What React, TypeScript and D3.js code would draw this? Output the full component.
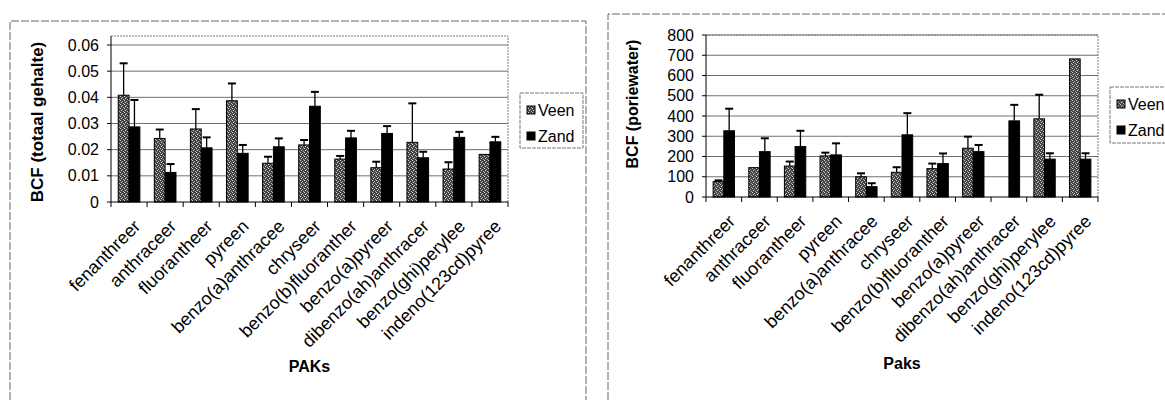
import React from "react";
import * as d3 from "d3";

const categories = [
  "fenanthreer",
  "anthraceer",
  "fluorantheer",
  "pyreen",
  "benzo(a)anthracee",
  "chryseer",
  "benzo(b)fluoranther",
  "benzo(a)pyreer",
  "dibenzo(ah)anthracer",
  "benzo(ghi)perylee",
  "indeno(123cd)pyree",
];

const seriesNames = ["Veen", "Zand"];

// BCF (totaal gehalte)
const veenTotaal = [0.0408, 0.0243, 0.0279, 0.0387, 0.0148, 0.0218, 0.0164, 0.0131, 0.0228, 0.0126, 0.0182];
const veenTotaalErr = [0.0122, 0.0034, 0.0076, 0.0066, 0.0025, 0.0019, 0.0012, 0.0023, 0.0149, 0.0026, 0];
const zandTotaal = [0.0287, 0.0113, 0.0207, 0.0186, 0.0211, 0.0366, 0.0245, 0.0262, 0.0169, 0.0247, 0.023];
const zandTotaalErr = [0.0103, 0.0032, 0.004, 0.0032, 0.0032, 0.0055, 0.0027, 0.0028, 0.0023, 0.0021, 0.0019];
const ticksTotaal = [0, 0.01, 0.02, 0.03, 0.04, 0.05, 0.06];

// BCF (poriewater)
const veenPorie = [76, 145, 153, 203, 100, 122, 140, 241, 0, 386, 682];
const veenPorieErr = [6, 0, 22, 16, 17, 25, 25, 57, 0, 119, 0];
const zandPorie = [327, 224, 249, 208, 51, 307, 165, 224, 376, 187, 187];
const zandPorieErr = [109, 66, 78, 57, 17, 107, 50, 33, 79, 29, 29];
const ticksPorie = [0, 100, 200, 300, 400, 500, 600, 700, 800];

const FONT = "'Liberation Sans', Arial, Helvetica, sans-serif";

type ChartProps = {
  veen: number[];
  veenErr: number[];
  zand: number[];
  zandErr: number[];
  ticks: number[];
  fmt: (v: number) => string;
  x0: number;
  x1: number;
  y0: number;
  yTop: number;
  plotTop: number;
  yTitle: string;
  yTitleX: number;
  yTitleY: number;
  yTitleSize: number;
  xTitle: string;
  xTitleY: number;
  legend: { x: number; y: number; w: number; h: number };
};

function BarChart(p: ChartProps) {
  const x = d3.scaleBand<string>().domain(categories).range([p.x0, p.x1]).padding(0);
  const y = d3
    .scaleLinear()
    .domain([0, p.ticks[p.ticks.length - 1]])
    .range([p.y0, p.yTop]);
  const bw = x.bandwidth() * 0.3;
  const series = [
    { name: seriesNames[0], vals: p.veen, errs: p.veenErr, fill: "url(#stipple)" },
    { name: seriesNames[1], vals: p.zand, errs: p.zandErr, fill: "#000" },
  ];
  return (
    <g>
      {/* plot area border (top/right) */}
      <path
        d={`M${p.x0},${p.plotTop}H${p.x1}V${p.y0}`}
        fill="none"
        stroke="#777"
        strokeDasharray="2,1"
      />
      {/* gridlines */}
      {p.ticks.slice(1).map((t) => (
        <line key={t} x1={p.x0} x2={p.x1} y1={y(t)} y2={y(t)} stroke="#707070" strokeWidth={1} />
      ))}
      {/* bars */}
      {series.map((s, si) =>
        categories.map((c, i) => {
          const v = s.vals[i];
          if (!v) return null;
          const bx = (x(c) as number) + x.bandwidth() / 2 - bw + si * bw;
          const top = y(v);
          const etop = y(v + s.errs[i]);
          return (
            <g key={s.name + c}>
              <rect x={bx} y={top} width={bw} height={p.y0 - top} fill={s.fill} stroke="#000" strokeWidth={1} />
              {s.errs[i] > 0 && (
                <g stroke="#000">
                  <line x1={bx + bw / 2} x2={bx + bw / 2} y1={top} y2={etop} strokeWidth={1.3} />
                  <line x1={bx + bw / 2 - 4} x2={bx + bw / 2 + 4} y1={etop} y2={etop} strokeWidth={2} />
                </g>
              )}
            </g>
          );
        })
      )}
      {/* axes */}
      <line x1={p.x0} x2={p.x0} y1={p.y0} y2={p.plotTop} stroke="#000" />
      <line x1={p.x0} x2={p.x1} y1={p.y0} y2={p.y0} stroke="#000" />
      {p.ticks.map((t) => (
        <g key={"yt" + t}>
          <line x1={p.x0 - 4} x2={p.x0} y1={y(t)} y2={y(t)} stroke="#000" />
          <text x={p.x0 - 12} y={y(t)} dy="0.35em" textAnchor="end" fontSize={16} fontFamily={FONT}>
            {p.fmt(t)}
          </text>
        </g>
      ))}
      {categories.concat([""]).map((c, i) => {
        const xx = p.x0 + i * x.bandwidth();
        return <line key={"xt" + i} x1={xx} x2={xx} y1={p.y0} y2={p.y0 + 5} stroke="#000" />;
      })}
      {categories.map((c) => {
        const cx = (x(c) as number) + x.bandwidth() / 2;
        return (
          <text
            key={"xl" + c}
            transform={`translate(${cx + 8},${p.y0 + 21}) rotate(-45)`}
            textAnchor="end"
            dy="0.35em"
            fontSize={18}
            fontFamily={FONT}
          >
            {c}
          </text>
        );
      })}
      <text
        transform={`translate(${p.yTitleX},${p.yTitleY}) rotate(-90)`}
        textAnchor="middle"
        dy="0.35em"
        fontSize={p.yTitleSize}
        fontWeight="bold"
        fontFamily={FONT}
      >
        {p.yTitle}
      </text>
      <text
        x={(p.x0 + p.x1) / 2}
        y={p.xTitleY}
        textAnchor="middle"
        dy="0.35em"
        fontSize={16}
        fontWeight="bold"
        fontFamily={FONT}
      >
        {p.xTitle}
      </text>
      {/* legend */}
      <rect
        x={p.legend.x}
        y={p.legend.y}
        width={p.legend.w}
        height={p.legend.h}
        fill="#fff"
        stroke="#777"
        strokeDasharray="4,1"
      />
      {series.map((s, si) => {
        const ly = p.legend.y + 17 + si * 26;
        return (
          <g key={"lg" + s.name}>
            <rect x={p.legend.x + 7} y={ly - 4} width={8} height={8} fill={s.fill} stroke="#000" />
            <text x={p.legend.x + 18} y={ly} dy="0.35em" fontSize={16} fontFamily={FONT}>
              {s.name}
            </text>
          </g>
        );
      })}
    </g>
  );
}

export default function App() {
  return (
    <svg
      width={1165}
      height={400}
      style={{ position: "absolute", left: 0, top: 0, background: "#fff" }}
    >
      <defs>
        <pattern id="stipple" width="4" height="4" patternUnits="userSpaceOnUse">
          <rect width="4" height="4" fill="#444" />
          <rect x="0" y="0" width="1" height="1" fill="#d0d0d0" />
          <rect x="2" y="1" width="1" height="1" fill="#aaaaaa" />
          <rect x="1" y="2" width="1" height="1" fill="#d8d8d8" />
          <rect x="3" y="3" width="1" height="1" fill="#b0b0b0" />
        </pattern>
      </defs>
      {/* chart frames */}
      <path d="M10,400V21H586V400" fill="none" stroke="#666" strokeDasharray="8,2" />
      <path d="M608,400V14H1165" fill="none" stroke="#666" strokeDasharray="8,2" />
      <BarChart
        veen={veenTotaal}
        veenErr={veenTotaalErr}
        zand={zandTotaal}
        zandErr={zandTotaalErr}
        ticks={ticksTotaal}
        fmt={(v) => (v === 0 ? "0" : d3.format(".2f")(v))}
        x0={111}
        x1={508}
        y0={202}
        yTop={45}
        plotTop={36}
        yTitle="BCF (totaal gehalte)"
        yTitleX={37}
        yTitleY={122}
        yTitleSize={17}
        xTitle="PAKs"
        xTitleY={366}
        legend={{ x: 520, y: 93, w: 63, h: 55 }}
      />
      <BarChart
        veen={veenPorie}
        veenErr={veenPorieErr}
        zand={zandPorie}
        zandErr={zandPorieErr}
        ticks={ticksPorie}
        fmt={(v) => String(v)}
        x0={706}
        x1={1098}
        y0={197}
        yTop={35}
        plotTop={35}
        yTitle="BCF (poriewater)"
        yTitleX={632}
        yTitleY={104}
        yTitleSize={16}
        xTitle="Paks"
        xTitleY={363}
        legend={{ x: 1110, y: 87, w: 70, h: 56 }}
      />
    </svg>
  );
}
